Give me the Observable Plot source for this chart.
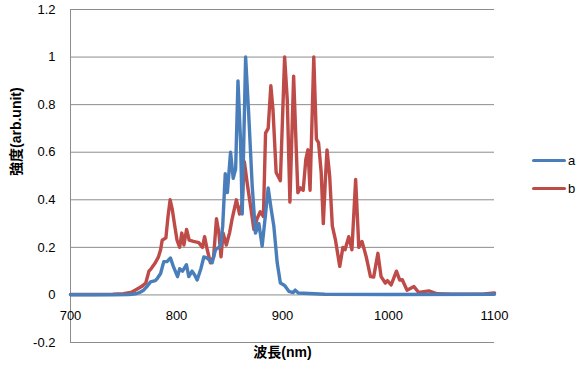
<!DOCTYPE html>
<html>
<head>
<meta charset="utf-8">
<script src="https://cdn.jsdelivr.net/npm/d3@7"></script>
<script src="https://cdn.jsdelivr.net/npm/@observablehq/plot@0.6"></script>
<style>
  html, body { margin: 0; padding: 0; background: #fff; }
  #wrap { position: relative; width: 577px; height: 370px; font-family: "Liberation Sans", "Noto Sans CJK JP", sans-serif; }
  .leg { position: absolute; display: flex; align-items: center; font-size: 13px; color: #000; }
  .sw { width: 34px; height: 3px; margin-right: 2px; border-radius: 1.5px; }
</style>
</head>
<body>
<div id="wrap"></div>
<script>
// Series a (blue)
const wavelengthA = [700,740,755,762,766,769,772,775.5,780,782,785,788,791,794.3,797,801,803,805.7,809.4,811.6,814.7,817,819.5,823,825.8,829,833.6,836.8,841.5,843.6,846,848,851,853.5,855.8,858,860.4,862,865.2,868,871.4,874.5,877.7,880.8,884,886.5,889,891.8,895,898,902,906,910,912,915,925,940,1000,1100];
const valuesA =     [0.001,0.001,0.002,0.005,0.012,0.02,0.035,0.055,0.06,0.07,0.09,0.14,0.14,0.155,0.12,0.077,0.11,0.10,0.127,0.077,0.10,0.085,0.063,0.11,0.16,0.155,0.135,0.19,0.205,0.29,0.51,0.43,0.60,0.49,0.53,0.90,0.65,0.34,1.00,0.77,0.46,0.26,0.30,0.205,0.34,0.45,0.37,0.29,0.135,0.05,0.04,0.015,0.01,0.02,0.008,0.006,0.003,0.002,0.003];
// Series b (red)
const wavelengthB = [700,720,740,750,758,763,767,771,774,776,780,783,785,786.5,790,792,794,796,798,800.5,803,805,807,809.5,812,816,821,824.5,826.5,829,832,835,837.7,840,842,844,847,850,852.5,856.5,859.5,862,864,867,870,873,876,879,882,884,886.5,889,891,894,898,902,904.5,907,910.5,913,914.5,917,919.5,922,924,926,929.5,932,934,936.5,938.5,940.5,942,944.5,947,950,954,957,959,962.5,965.5,969,972,975,979,983,986,990,993,997,999,1002.5,1007.5,1010.5,1013,1017.5,1024,1028.5,1038,1046,1060,1080,1090,1100];
const valuesB =     [0.002,0.002,0.003,0.005,0.012,0.025,0.035,0.05,0.10,0.11,0.135,0.16,0.19,0.23,0.24,0.33,0.40,0.36,0.30,0.23,0.20,0.26,0.21,0.275,0.23,0.225,0.22,0.20,0.245,0.19,0.135,0.16,0.32,0.26,0.16,0.26,0.21,0.26,0.32,0.40,0.34,0.39,0.56,0.46,0.37,0.275,0.32,0.35,0.33,0.68,0.70,0.88,0.78,0.515,0.48,1.00,0.82,0.39,0.92,0.61,0.43,0.45,0.44,0.57,0.61,0.44,1.00,0.655,0.64,0.515,0.30,0.49,0.61,0.50,0.29,0.23,0.12,0.20,0.19,0.245,0.19,0.485,0.20,0.225,0.16,0.077,0.075,0.175,0.077,0.05,0.06,0.042,0.10,0.063,0.064,0.02,0.035,0.01,0.017,0.005,0.003,0.003,0.004,0.008];

const seriesNames = ["a", "b"];
const seriesColors = ["#4a7ebb", "#be4b48"];
const xTicks = [700, 800, 900, 1000, 1100];
const yTicks = [-0.2, 0, 0.2, 0.4, 0.6, 0.8, 1, 1.2];
const xTitle = "波長(nm)";
const yTitle = "強度(arb.unit)";

const dataA = wavelengthA.map((x, i) => ({x, y: valuesA[i]}));
const dataB = wavelengthB.map((x, i) => ({x, y: valuesB[i]}));
const grid = "#8c8c8c";
const font = "'Liberation Sans', 'Noto Sans CJK JP', sans-serif";

const chart = Plot.plot({
  width: 577,
  height: 370,
  marginLeft: 70,
  marginRight: 83,
  marginTop: 9,
  marginBottom: 28,
  style: {fontFamily: font, fontSize: "13px", color: "#000", background: "#fff"},
  x: {domain: [700, 1100], axis: null},
  y: {domain: [-0.2, 1.2], axis: null},
  marks: [
    Plot.ruleY(yTicks, {stroke: grid, strokeWidth: 1}),
    Plot.ruleX([700], {stroke: grid, strokeWidth: 1}),
    Plot.axisY({ticks: yTicks, label: null, tickSize: 0, tickPadding: 15, tickFormat: d => String(Math.round(d * 10) / 10), fontSize: 13, fill: "#000"}),
    Plot.text(xTicks, {x: d => d, y: 0, dy: 21, text: d => String(d), fontSize: 13, fill: "#000"}),
    Plot.line(dataB, {x: "x", y: "y", stroke: seriesColors[1], strokeWidth: 3.4, strokeLinejoin: "round", strokeLinecap: "round", curve: "linear"}),
    Plot.line(dataA, {x: "x", y: "y", stroke: seriesColors[0], strokeWidth: 3.4, strokeLinejoin: "round", strokeLinecap: "round", curve: "linear"}),
    Plot.text([xTitle], {frameAnchor: "bottom", dy: 14, text: d => d, fontSize: 14, fontWeight: "bold", fill: "#000"}),
    Plot.text([yTitle], {frameAnchor: "left", dx: -54, rotate: -90, text: d => d, fontSize: 14, fontWeight: "bold", fill: "#000"})
  ]
});

const wrap = document.getElementById("wrap");
wrap.appendChild(chart);
const legendTops = [153, 181];
seriesNames.forEach((name, i) => {
  const item = document.createElement("div");
  item.className = "leg";
  item.style.left = "532px";
  item.style.top = legendTops[i] + "px";
  const sw = document.createElement("div");
  sw.className = "sw";
  sw.style.background = seriesColors[i];
  const label = document.createElement("span");
  label.textContent = name;
  item.appendChild(sw);
  item.appendChild(label);
  wrap.appendChild(item);
});
</script>
</body>
</html>
